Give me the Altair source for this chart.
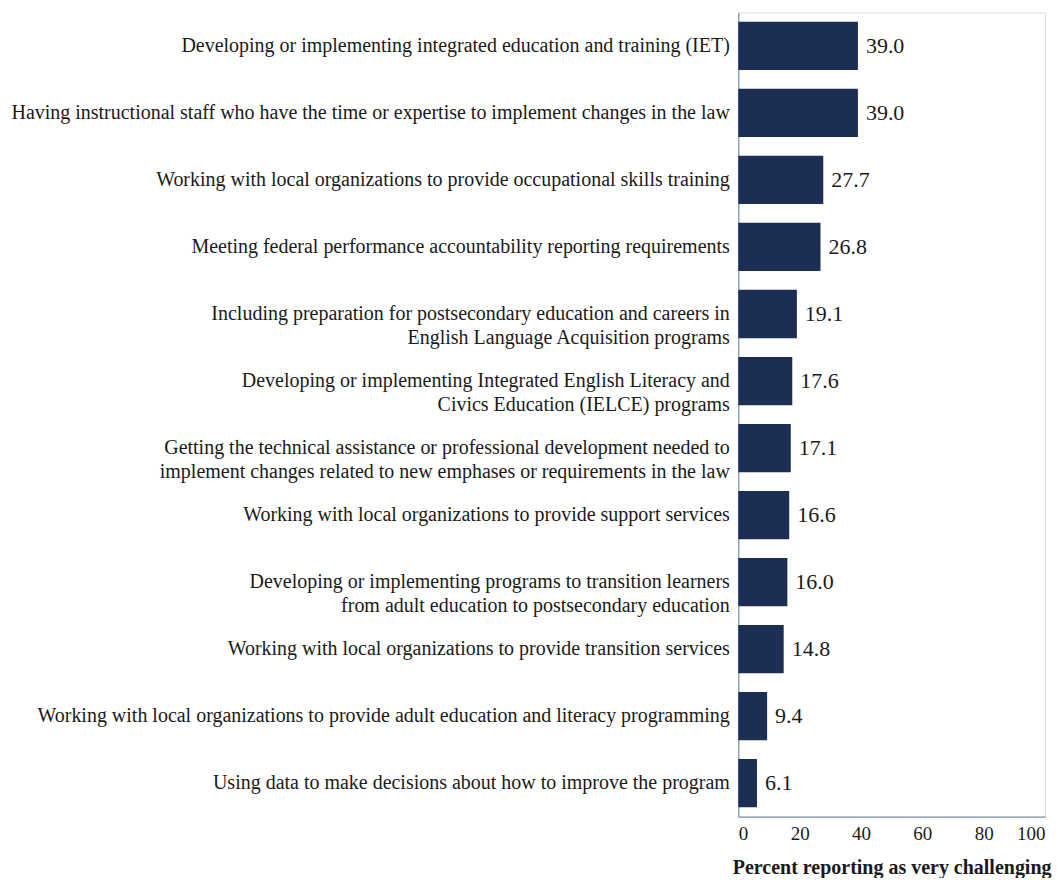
import altair as alt
import pandas as pd

categories = [
    "Developing or implementing integrated education and training (IET)",
    "Having instructional staff who have the time or expertise to implement changes in the law",
    "Working with local organizations to provide occupational skills training",
    "Meeting federal performance accountability reporting requirements",
    "Including preparation for postsecondary education and careers in|English Language Acquisition programs",
    "Developing or implementing Integrated English Literacy and|Civics Education (IELCE) programs",
    "Getting the technical assistance or professional development needed to|implement changes related to new emphases or requirements in the law",
    "Working with local organizations to provide support services",
    "Developing or implementing programs to transition learners|from adult education to postsecondary education",
    "Working with local organizations to provide transition services",
    "Working with local organizations to provide adult education and literacy programming",
    "Using data to make decisions about how to improve the program",
]
values = [39.0, 39.0, 27.7, 26.8, 19.1, 17.6, 17.1, 16.6, 16.0, 14.8, 9.4, 6.1]

df = pd.DataFrame({"item": categories, "pct": values})
FONT = "Liberation Serif"

y_enc = alt.Y(
    "item:N",
    sort=categories,
    title=None,
    scale=alt.Scale(paddingInner=0.28, paddingOuter=0.14),
    axis=alt.Axis(
        labelExpr="split(datum.label, '|')",
        labelFont=FONT,
        labelFontSize=20,
        labelColor="#1a1a1a",
        labelLineHeight=24,
        labelPadding=9,
        labelLimit=1000,
        ticks=False,
        domainColor="#8096aa",
        domainWidth=1.2,
    ),
)
x_enc = alt.X(
    "pct:Q",
    title="Percent reporting as very challenging",
    scale=alt.Scale(domain=[0, 100], nice=False),
    axis=alt.Axis(
        values=[0, 20, 40, 60, 80, 100],
        grid=False,
        ticks=False,
        labelFont=FONT,
        labelFontSize=19,
        labelColor="#1a1a1a",
        labelPadding=8,
        domainColor="#8096aa",
        domainWidth=1.2,
        titleFont=FONT,
        titleFontSize=20,
        titleFontWeight="bold",
        titleColor="#1a1a1a",
        titlePadding=14,
    ),
)

bars = alt.Chart(df).mark_bar(color="#1d2e54").encode(x=x_enc, y=y_enc)
text = alt.Chart(df).mark_text(
    align="left", baseline="middle", dx=8, font=FONT, fontSize=22, color="#1a1a1a"
).encode(
    x="pct:Q",
    y=alt.Y("item:N", sort=categories),
    text=alt.Text("pct:Q", format=".1f"),
)

chart = (
    (bars + text)
    .properties(width=307, height=805, padding={"left": 2, "top": 4, "right": 0, "bottom": 0})
    .configure_view(strokeWidth=0)
    .configure(background="white")
)
chart.save("out.html", embed_options={"renderer": "svg", "actions": False})
